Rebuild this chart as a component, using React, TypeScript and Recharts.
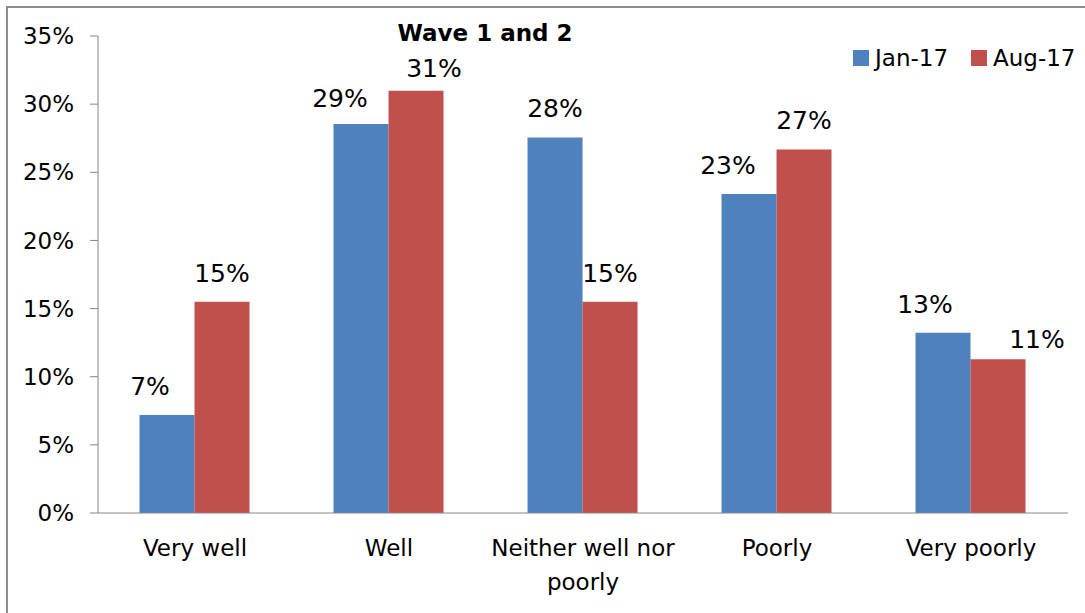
import React from 'react';
import { BarChart, Bar, XAxis, YAxis, LabelList, Legend } from 'recharts';

const categories = ['Very well', 'Well', 'Neither well nor poorly', 'Poorly', 'Very poorly'];
const jan17 = [7.19, 28.54, 27.56, 23.4, 13.23];
const aug17 = [15.5, 30.98, 15.5, 26.68, 11.28];
const jan17Labels = ['7%', '29%', '28%', '23%', '13%'];
const aug17Labels = ['15%', '31%', '15%', '27%', '11%'];
const yTicks = [0, 5, 10, 15, 20, 25, 30, 35];
const boundaryTicks = [0, 1, 2, 3, 4, 5];
const seriesNames = ['Jan-17', 'Aug-17'];
const title = 'Wave 1 and 2';

// label placement nudges (layout only, in px)
const janNudgeX = [-17, -21, 0, -21, -18];
const janNudgeY = [0, 3, 0, 0, 0];
const augNudgeX = [0, 18, 0, 0, 39];
const augNudgeY = [0, 6, 0, 0, 9];

const BLUE = '#4F81BD';
const RED = '#C0504D';
const AXIS = '#868686';
const FONT = '"DejaVu Sans", sans-serif';

const data = categories.map((c, i) => ({
  cat: c,
  jan: jan17[i],
  aug: aug17[i],
  janLabel: jan17Labels[i],
  augLabel: aug17Labels[i],
}));

const wrapLines = (s: string, maxChars: number) => {
  const words = s.split(' ');
  const lines: string[] = [];
  let cur = '';
  words.forEach((w) => {
    const next = cur ? cur + ' ' + w : w;
    if (next.length > maxChars && cur) {
      lines.push(cur);
      cur = w;
    } else {
      cur = next;
    }
  });
  if (cur) lines.push(cur);
  return lines;
};

const CatTick = (props: any) => {
  const { x, y, payload } = props;
  const lines = wrapLines(String(payload.value), 16);
  return (
    <text x={x} y={y + 35} textAnchor="middle" fontSize={23} fontFamily={FONT} fill="#000">
      {lines.map((l, i) => (
        <tspan key={i} x={x} dy={i === 0 ? 0 : 34}>
          {l}
        </tspan>
      ))}
    </text>
  );
};

const makeLabel = (nx: number[], ny: number[]) => (props: any) => {
  const { x, y, width, value, index } = props;
  return (
    <text
      x={Number(x) + Number(width) / 2 + nx[index]}
      y={Number(y) - 20 + ny[index]}
      textAnchor="middle"
      fontSize={25}
      fontFamily={FONT}
      fill="#000"
    >
      {value}
    </text>
  );
};

const JanLabel = makeLabel(janNudgeX, janNudgeY);
const AugLabel = makeLabel(augNudgeX, augNudgeY);

const LegendContent = () => (
  <div style={{ display: 'flex', alignItems: 'center', fontFamily: FONT, fontSize: 23, color: '#000' }}>
    {seriesNames.map((n, i) => (
      <div key={n} style={{ display: 'flex', alignItems: 'center', marginRight: i === 0 ? 23 : 0 }}>
        <span style={{ display: 'inline-block', width: 16, height: 16, background: i === 0 ? BLUE : RED, marginRight: 6 }} />
        <span>{n}</span>
      </div>
    ))}
  </div>
);

export default function App() {
  return (
    <div style={{ position: 'fixed', left: 0, top: 0, width: 1085, height: 613, overflow: 'hidden', background: '#fff' }}>
      <div style={{ position: 'absolute', left: 6, top: 6, width: 1200, height: 800, border: '2px solid #8c8c8c', boxSizing: 'border-box' }} />
      <div style={{ position: 'absolute', left: 0, top: 0 }}>
        <BarChart
          width={1085}
          height={613}
          data={data}
          margin={{ top: 36, right: 17, bottom: 0, left: 0 }}
          barCategoryGap="21.4%"
          barGap={0}
        >
          <XAxis
            xAxisId="num"
            type="number"
            domain={[0, 5]}
            ticks={boundaryTicks}
            allowDataOverflow
            height={0}
            tick={false}
            tickLine={{ stroke: AXIS }}
            tickSize={8}
            axisLine={false}
          />
          <XAxis
            xAxisId="cat"
            dataKey="cat"
            height={100}
            axisLine={{ stroke: AXIS }}
            tickLine={false}
            tick={<CatTick />}
            interval={0}
          />
          <YAxis
            width={98}
            domain={[0, 35]}
            ticks={yTicks}
            allowDataOverflow
            tickFormatter={(v: number) => `${v}%`}
            axisLine={{ stroke: AXIS }}
            tickLine={{ stroke: AXIS }}
            tickSize={8}
            tickMargin={16}
            tick={{ fontSize: 23, fontFamily: FONT, fill: '#000' }}
          />
          <Legend
            layout="horizontal"
            verticalAlign="middle"
            align="center"
            wrapperStyle={{ top: 45, left: 853, width: 'auto' }}
            content={<LegendContent />}
          />
          <Bar dataKey="jan" name={seriesNames[0]} xAxisId="cat" fill={BLUE} isAnimationActive={false}>
            <LabelList dataKey="janLabel" content={JanLabel} />
          </Bar>
          <Bar dataKey="aug" name={seriesNames[1]} xAxisId="cat" fill={RED} isAnimationActive={false}>
            <LabelList dataKey="augLabel" content={AugLabel} />
          </Bar>
        </BarChart>
      </div>
      <div
        style={{
          position: 'absolute',
          left: 385,
          top: 17,
          width: 200,
          textAlign: 'center',
          fontFamily: FONT,
          fontWeight: 700,
          fontSize: 23,
          color: '#000',
          lineHeight: '32px',
        }}
      >
        {title}
      </div>
    </div>
  );
}
